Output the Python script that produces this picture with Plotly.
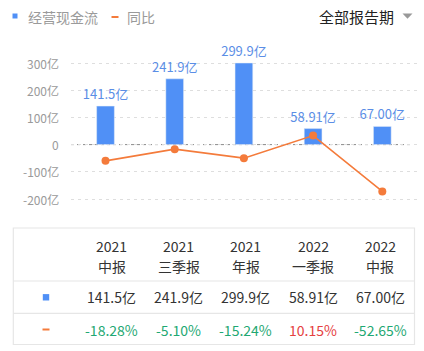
import plotly.graph_objects as go

W, H = 424, 351

# ---- data ----
years = ["2021", "2021", "2021", "2022", "2022"]
ptypes = ["中报", "三季报", "年报", "一季报", "中报"]
cash_flow = [141.5, 241.9, 299.9, 58.91, 67.00]
cash_labels = ["141.5亿", "241.9亿", "299.9亿", "58.91亿", "67.00亿"]
yoy = [-18.28, -5.10, -15.24, 10.15, -52.65]
yoy_labels = ["-18.28%", "-5.10%", "-15.24%", "10.15%", "-52.65%"]
ytick_vals = [-200, -100, 0, 100, 200, 300]
ytick_text = ["-200亿", "-100亿", "0", "100亿", "200亿", "300亿"]

FONT = "Noto Sans CJK SC"
BLUE = "#5090f6"
BLUE_TXT = "#5b8ee6"
ORANGE = "#f47b3b"
GREEN = "#1fa873"
RED = "#e5413f"
GRAY = "#9a9a9a"
DARK = "#333333"
LINE = "#e6e6e6"


def px(x):
    return x / W


def py(y):
    return 1 - y / H


cats = [f"{y}{t}{i}" for i, (y, t) in enumerate(zip(years, ptypes))]

y_range = [-240, 330]
y2_range = [v / 3.27 for v in y_range]
top_px = 63 - (y_range[1] - 300) * 0.272
bot_px = 199 + (-200 - y_range[0]) * 0.272

fig = go.Figure()
fig.add_trace(go.Bar(
    x=cats, y=cash_flow, marker_color=BLUE, width=0.256,
    text=cash_labels, textposition="outside", cliponaxis=False,
    constraintext="none",
    textfont=dict(color=BLUE_TXT, size=13, family=FONT),
    name="经营现金流", showlegend=False,
))
fig.add_trace(go.Scatter(
    x=cats, y=yoy, yaxis="y2", mode="lines+markers",
    line=dict(color=ORANGE, width=1.6),
    marker=dict(color=ORANGE, size=8),
    name="同比", showlegend=False, cliponaxis=False,
))

fig.update_layout(
    width=W, height=H,
    margin=dict(l=0, r=0, t=0, b=0),
    paper_bgcolor="white", plot_bgcolor="white",
    font=dict(family=FONT),
    xaxis=dict(domain=[px(70.9), px(416.9)], showticklabels=False,
               showgrid=False, zeroline=False, showline=False,
               fixedrange=True),
    yaxis=dict(domain=[py(bot_px), py(top_px)], range=y_range,
               tickvals=ytick_vals, showticklabels=False,
               showgrid=True, gridcolor="#dedede", griddash="3px,4px",
               gridwidth=1, zeroline=False, showline=False),
    yaxis2=dict(overlaying="y", range=y2_range, visible=False,
                showgrid=False, zeroline=False),
    showlegend=False,
)

shapes = []
annotations = []

# y tick labels (right-aligned, left of the plot)
for v, t in zip(ytick_vals, ytick_text):
    annotations.append(dict(text=t, xref="paper", yref="y", x=px(60.5), y=v,
                            xanchor="right", yanchor="middle", showarrow=False,
                            font=dict(size=12, color=GRAY, family=FONT)))

# zero line
shapes.append(dict(type="line", xref="paper", yref="y",
                   x0=px(71), x1=px(413), y0=0, y1=0,
                   line=dict(color="#8c8c8c", width=1, dash="dot"),
                   layer="below"))

# legend
shapes.append(dict(type="rect", xref="paper", yref="paper",
                   x0=px(12.5), x1=px(17.5), y0=py(18.5), y1=py(13.5),
                   fillcolor=BLUE, line=dict(width=0)))
annotations.append(dict(text="经营现金流", xref="paper", yref="paper",
                        x=px(26), y=py(16.5), xanchor="left", yanchor="middle",
                        showarrow=False, font=dict(size=14, color=GRAY, family=FONT)))
shapes.append(dict(type="line", xref="paper", yref="paper",
                   x0=px(111.5), x1=px(118.5), y0=py(17), y1=py(17),
                   line=dict(color=ORANGE, width=2)))
annotations.append(dict(text="同比", xref="paper", yref="paper",
                        x=px(125), y=py(16.5), xanchor="left", yanchor="middle",
                        showarrow=False, font=dict(size=14, color=GRAY, family=FONT)))
annotations.append(dict(text="全部报告期", xref="paper", yref="paper",
                        x=px(396), y=py(16.5), xanchor="right", yanchor="middle",
                        showarrow=False, font=dict(size=15, color="#222222", family=FONT)))
shapes.append(dict(type="path", xref="paper", yref="paper",
                   path=f"M {px(402.5)},{py(13.5)} L {px(412.5)},{py(13.5)} L {px(407.5)},{py(18.8)} Z",
                   fillcolor="#999999", line=dict(width=0)))

# table frame
tl, tr, tt, tb = 13.3, 414.5, 228, 344.5
shapes.append(dict(type="rect", xref="paper", yref="paper",
                   x0=px(tl), x1=px(tr), y0=py(tb), y1=py(tt),
                   line=dict(color=LINE, width=1.2), fillcolor="rgba(0,0,0,0)"))
for yy in (281, 313.3):
    shapes.append(dict(type="line", xref="paper", yref="paper",
                       x0=px(tl), x1=px(tr), y0=py(yy), y1=py(yy),
                       line=dict(color=LINE, width=1.2)))

# table icons
shapes.append(dict(type="rect", xref="paper", yref="paper",
                   x0=px(42.8), x1=px(49.2), y0=py(300.5), y1=py(294.1),
                   fillcolor=BLUE, line=dict(width=0)))
shapes.append(dict(type="line", xref="paper", yref="paper",
                   x0=px(42.5), x1=px(49.5), y0=py(329.5), y1=py(329.5),
                   line=dict(color=ORANGE, width=2)))

col0, step = 111.7, 67.1
for i in range(len(cats)):
    cx = px(col0 + step * i)
    annotations.append(dict(text=years[i], xref="paper", yref="paper", x=cx, y=py(245.7),
                            xanchor="center", yanchor="middle", showarrow=False,
                            font=dict(size=14, color=DARK, family=FONT)))
    annotations.append(dict(text=ptypes[i], xref="paper", yref="paper", x=cx, y=py(265.7),
                            xanchor="center", yanchor="middle", showarrow=False,
                            font=dict(size=14, color=DARK, family=FONT)))
    annotations.append(dict(text=cash_labels[i], xref="paper", yref="paper", x=cx, y=py(296.7),
                            xanchor="center", yanchor="middle", showarrow=False,
                            font=dict(size=14, color=DARK, family=FONT)))
    annotations.append(dict(text=yoy_labels[i], xref="paper", yref="paper", x=cx, y=py(329.5),
                            xanchor="center", yanchor="middle", showarrow=False,
                            font=dict(size=14, color=(RED if yoy[i] > 0 else GREEN), family=FONT)))

fig.update_layout(shapes=shapes, annotations=annotations)
fig.write_html("out.html")
